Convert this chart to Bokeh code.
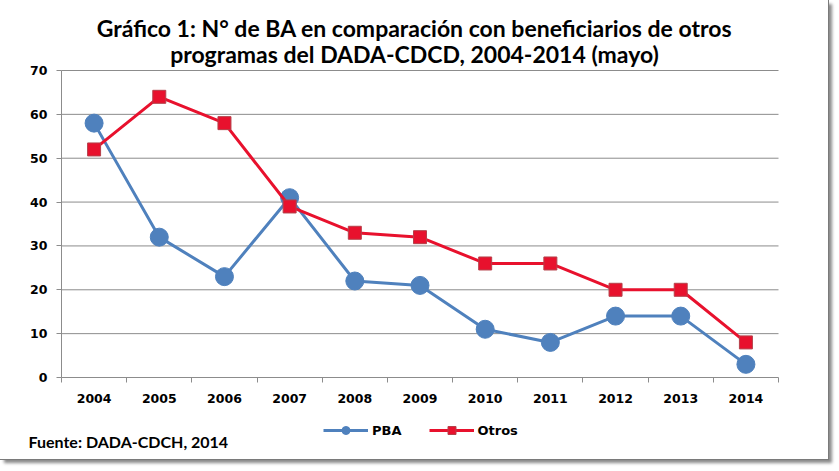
from bokeh.plotting import figure
from bokeh.models import Range1d, FixedTicker, Label, Legend, LegendItem
from bokeh.embed import file_html
from bokeh.resources import INLINE

years = [2004, 2005, 2006, 2007, 2008, 2009, 2010, 2011, 2012, 2013, 2014]
pba = [58, 32, 23, 41, 22, 21, 11, 8, 14, 14, 3]
otros = [52, 64, 58, 39, 33, 32, 26, 26, 20, 20, 8]
y_ticks = [0, 10, 20, 30, 40, 50, 60, 70]
title_lines = ["Gráfico 1: N° de BA en comparación con beneficiarios de otros",
               "programas del DADA-CDCD, 2004-2014 (mayo)"]
source_note = "Fuente: DADA-CDCH, 2014"

BLUE = "#4F81BD"
RED = "#E8112D"
GRAY = "#8C8C8C"

# canvas and plot-area geometry (pixels)
W, H = 828, 459
PL, PR, PT, PB = 61, 778, 70, 377

x0, x1 = years[0] - 0.5, years[-1] + 0.5
y0, y1 = y_ticks[0], y_ticks[-1]
xs = (PR - PL) / (x1 - x0)
ys = (PB - PT) / (y1 - y0)
x_range = Range1d(x0 - PL / xs, x1 + (W - PR) / xs)
y_range = Range1d(y0 - (H - PB) / ys, y1 + PT / ys)

p = figure(width=W, height=H, output_backend="svg", toolbar_location=None,
           x_range=x_range, y_range=y_range,
           min_border_left=0, min_border_right=0, min_border_top=0, min_border_bottom=0)
p.styles = {"box-shadow": "0 0 0 1px #7a7a7a, 4px 4px 3px #8a8a8a"}
p.background_fill_color = "white"
p.border_fill_color = "white"
p.outline_line_color = None
p.xgrid.grid_line_color = None
p.ygrid.grid_line_color = None

# gridlines across the plot area
p.segment(x0=[x0] * len(y_ticks[1:]), x1=[x1] * len(y_ticks[1:]), y0=y_ticks[1:], y1=y_ticks[1:],
          line_color=GRAY, line_width=1)

# axes fixed at the plot-area edges
p.xaxis.fixed_location = y0
p.xaxis.bounds = (x0, x1)
p.yaxis.fixed_location = x0
p.yaxis.bounds = (y0, y1)
p.xaxis.ticker = FixedTicker(ticks=years, minor_ticks=[y - 0.5 for y in years] + [x1])
p.xaxis.major_tick_out = 0
p.xaxis.major_tick_in = 0
p.xaxis.minor_tick_out = 5
p.xaxis.minor_tick_in = 0
p.xaxis.minor_tick_line_color = GRAY
p.yaxis.ticker = FixedTicker(ticks=y_ticks, minor_ticks=[])
p.yaxis.major_tick_out = 5
p.yaxis.major_tick_in = 0
for ax in (p.xaxis, p.yaxis):
    ax.axis_line_color = GRAY
    ax.major_tick_line_color = GRAY
    ax.major_label_text_font = "DejaVu Sans"
    ax.major_label_text_font_style = "bold"
    ax.major_label_text_font_size = "12.5px"
    ax.major_label_text_color = "black"
p.xaxis.major_label_standoff = 11
p.yaxis.major_label_standoff = 9

l1 = p.line(years, pba, line_color=BLUE, line_width=3)
s1 = p.scatter(years, pba, marker="circle", size=18, fill_color=BLUE, line_color=BLUE)
l2 = p.line(years, otros, line_color=RED, line_width=3)
s2 = p.scatter(years, otros, marker="square", size=13, fill_color=RED, line_color="#B5404A", line_width=1)

legend = Legend(items=[LegendItem(label="PBA", renderers=[l1, s1]),
                       LegendItem(label="Otros", renderers=[l2, s2])],
                orientation="horizontal", location=(323, H - 440),
                glyph_width=45, glyph_height=20, label_standoff=4, spacing=27,
                padding=0, margin=0, border_line_color=None, background_fill_alpha=0,
                label_text_font="DejaVu Sans", label_text_font_style="bold",
                label_text_font_size="13px", label_text_color="black")
p.add_layout(legend)

# title (two lines) and source note
for t, cy in zip(title_lines, (27, 53)):
    p.add_layout(Label(x=414, y=H - cy, x_units="screen", y_units="screen",
                       text=t, text_align="center", text_baseline="middle",
                       text_font="Lato", text_font_style="bold", text_font_size="23px",
                       text_color="black"))
p.add_layout(Label(x=28, y=H - 441, x_units="screen", y_units="screen",
                   text=source_note, text_align="left", text_baseline="middle",
                   text_font="Lato", text_font_style="bold", text_font_size="16px",
                   text_color="black"))

open("out.html", "w").write(file_html(p, INLINE))
